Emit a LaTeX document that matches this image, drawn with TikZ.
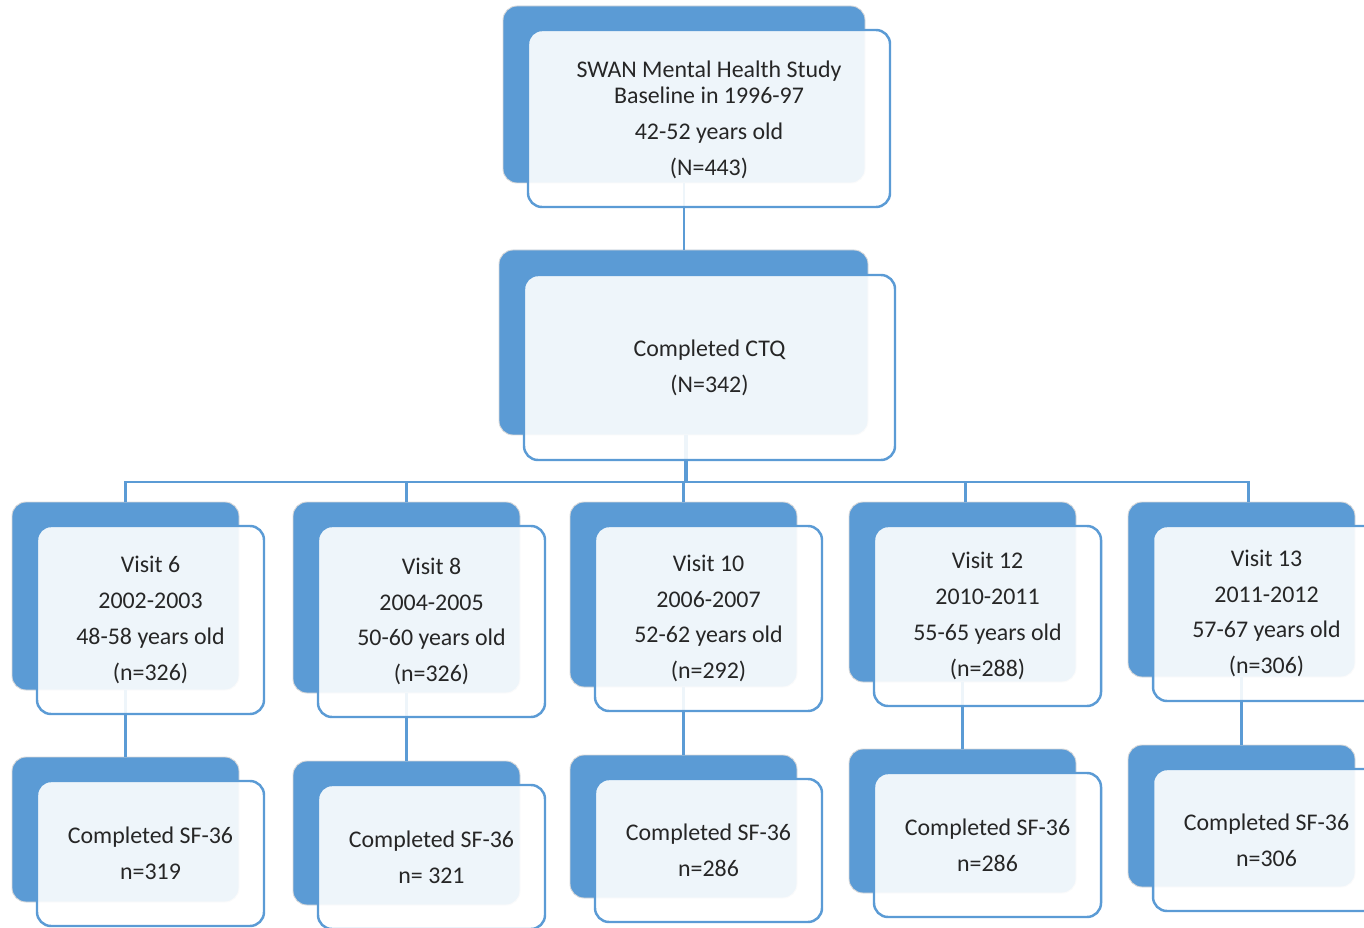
\documentclass[tikz,border=0pt]{standalone}
\usepackage{fontspec}
\setmainfont{Carlito}
\usetikzlibrary{fit}
\definecolor{swanblue}{HTML}{5B9BD5}
\tikzset{
  backbox/.style={draw=black!15, line width=0.5pt, fill=swanblue, rounded corners=0.28cm, inner sep=0pt},
  frontbox/.style={draw=swanblue, line width=1.4pt, fill=white, fill opacity=0.9,
    rounded corners=0.28cm, inner sep=0pt},
  paneltext/.style={align=center, text=black!85, inner sep=0pt,
    font=\fontsize{13.6}{20.4}\selectfont},
  link/.style={draw=swanblue, line width=1.4pt}
}

\begin{document}
\begin{tikzpicture}[x=0.02cm,y=-0.02cm]
\useasboundingbox (0,0) rectangle (1364,928);

% back plates
\node[backbox, fit={(503,6) (865,183)}] (backbase) {};
\node[backbox, fit={(499,250) (868,435)}] (backctq) {};
\foreach \nm/\xl/\yb in {v6/12/690, v8/293/693, v10/570/687, v12/849/682, v13/1128/677}
  \node[backbox, fit={(\xl,502) ({\xl+227},\yb)}] (back\nm) {};
\foreach \nm/\xl/\yt/\yb in {s6/12/757/902, s8/293/761/905, s10/570/755/898, s12/849/749/893, s13/1128/745/887}
  \node[backbox, fit={(\xl,\yt) ({\xl+227},\yb)}] (back\nm) {};

% connectors
\coordinate (bus) at (686,482);
\draw[link] (backbase.south) -- (backbase.south |- backctq.north);
\draw[link, line width=2.2pt] ([xshift=0.05cm]backctq.south) -- ([xshift=0.05cm]backctq.south |- bus);
\foreach \nm/\dx in {v6/0, v8/0, v10/0, v12/3, v13/7}
  \draw[link] (bus) -| ([xshift=\dx*0.02cm]back\nm.north);
\foreach \v/\s in {v6/s6, v8/s8, v10/s10, v12/s12, v13/s13}
  \draw[link] (back\v.south) -- (back\v.south |- back\s.north);

% text panels
\node[frontbox, fit={(528,30) (890,207)}] (panelbase) {};
\node[frontbox, fit={(524,275) (895,460)}] (panelctq) {};
\foreach \nm/\xl/\yb in {v6/12/690, v8/293/693, v10/570/687, v12/849/682, v13/1128/677}
  \node[frontbox, fit={({\xl+25},526) ({\xl+252},{\yb+24})}] (panel\nm) {};
\foreach \nm/\xl/\yt/\yb in {s6/12/757/902, s8/293/761/905, s10/570/755/898, s12/849/749/893, s13/1128/745/887}
  \node[frontbox, fit={({\xl+25},{\yt+24}) ({\xl+252},{\yb+24})}] (panel\nm) {};

% texts
\node[paneltext] (base) at ([yshift=-0.02cm]panelbase.center)
  {SWAN Mental Health Study\\[-5.4pt] Baseline in 1996-97\\ 42-52 years old\\ (N=443)};
\node[paneltext] (ctq) at (panelctq.center) {Completed CTQ\\ (N=342)};
\foreach \nm/\txt in {
    v6/{Visit 6\\ 2002-2003\\ 48-58 years old\\ (n=326)},
    v8/{Visit 8\\ 2004-2005\\ 50-60 years old\\ (n=326)},
    v10/{Visit 10\\ 2006-2007\\ 52-62 years old\\ (n=292)},
    v12/{Visit 12\\ 2010-2011\\ 55-65 years old\\ (n=288)},
    v13/{Visit 13\\ 2011-2012\\ 57-67 years old\\ (n=306)},
    s6/{Completed SF-36\\ n=319},
    s8/{Completed SF-36\\ n= 321},
    s10/{Completed SF-36\\ n=286},
    s12/{Completed SF-36\\ n=286},
    s13/{Completed SF-36\\ n=306}}
  \node[paneltext] (\nm) at (panel\nm.center) {\txt};

\end{tikzpicture}
\end{document}
